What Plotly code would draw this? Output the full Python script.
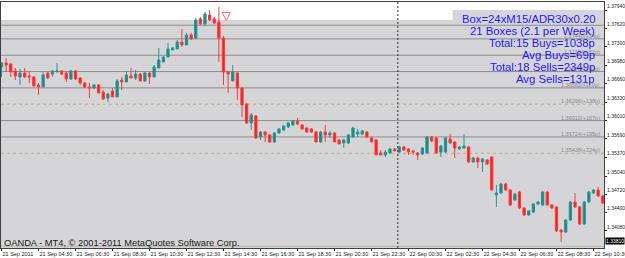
import plotly.graph_objects as go

# ---------------- data (M15 candles) ----------------
bars = list(range(131))
open_ = [1.36948, 1.37018, 1.37000, 1.36878, 1.36773, 1.36843, 1.36790, 1.36773, 1.36633, 1.36598,
         1.36843, 1.36825, 1.36860, 1.36878, 1.36843, 1.36738, 1.36878, 1.36755, 1.36668, 1.36598,
         1.36580, 1.36633, 1.36510, 1.36405, 1.36528, 1.36423, 1.36720, 1.36685, 1.36790, 1.36755,
         1.36825, 1.36703, 1.36843, 1.36773, 1.36930, 1.37035, 1.37123, 1.37245, 1.37263, 1.37385,
         1.37333, 1.37508, 1.37455, 1.37788, 1.37700, 1.37858, 1.37788, 1.37735, 1.37455, 1.36860,
         1.36703, 1.36843, 1.36580, 1.36300, 1.35968, 1.36090, 1.35723, 1.35810, 1.35758, 1.35635,
         1.35793, 1.35845, 1.35898, 1.35933, 1.36003, 1.35933, 1.35880, 1.35863, 1.35810, 1.35635,
         1.35810, 1.35758, 1.35793, 1.35670, 1.35618, 1.35618, 1.35723, 1.35775, 1.35775, 1.35810,
         1.35705, 1.35670, 1.35443, 1.35408, 1.35443, 1.35513, 1.35460, 1.35548, 1.35513, 1.35478,
         1.35443, 1.35425, 1.35443, 1.35723, 1.35705, 1.35460, 1.35460, 1.35688, 1.35635, 1.35513,
         1.35530, 1.35548, 1.35285, 1.35355, 1.35285, 1.35320, 1.35373, 1.34708, 1.34743, 1.34900,
         1.34795, 1.34620, 1.34760, 1.34480, 1.34358, 1.34410, 1.34550, 1.34533, 1.34760, 1.34533,
         1.34498, 1.34095, 1.34060, 1.34270, 1.34585, 1.34498, 1.34200, 1.34585, 1.34743, 1.34795,
         1.34690]
high = [1.37035, 1.37105, 1.37018, 1.36930, 1.36913, 1.36930, 1.36860, 1.36790, 1.36668, 1.36860,
        1.36860, 1.36895, 1.37018, 1.36895, 1.36860, 1.36895, 1.36895, 1.36773, 1.36685, 1.36668,
        1.36650, 1.36650, 1.36545, 1.36493, 1.36580, 1.36738, 1.36773, 1.36878, 1.36930, 1.36895,
        1.36843, 1.36860, 1.36860, 1.36983, 1.37280, 1.37140, 1.37368, 1.37298, 1.37420, 1.37613,
        1.37543, 1.37543, 1.37805, 1.37823, 1.37910, 1.37945, 1.37823, 1.37998, 1.37490, 1.36878,
        1.36983, 1.36860, 1.36598, 1.36318, 1.36143, 1.36108, 1.35828, 1.35828, 1.35775, 1.35810,
        1.35880, 1.35933, 1.35985, 1.36020, 1.36055, 1.35950, 1.35898, 1.35880, 1.35828, 1.35828,
        1.35933, 1.35828, 1.35810, 1.35688, 1.35688, 1.35775, 1.35898, 1.35863, 1.35845, 1.35828,
        1.35723, 1.35688, 1.35495, 1.35495, 1.35530, 1.35530, 1.35565, 1.35565, 1.35530, 1.35495,
        1.35460, 1.35548, 1.35740, 1.35740, 1.35723, 1.35583, 1.35723, 1.35775, 1.35653, 1.35565,
        1.35775, 1.35565, 1.35373, 1.35373, 1.35355, 1.35338, 1.35390, 1.34883, 1.34918, 1.34918,
        1.34813, 1.34743, 1.34778, 1.34498, 1.34445, 1.34568, 1.34603, 1.34778, 1.34778, 1.34550,
        1.34515, 1.34113, 1.34288, 1.34603, 1.34743, 1.34515, 1.34603, 1.34778, 1.34813, 1.34848,
        1.34708]
low = [1.36773, 1.36860, 1.36773, 1.36720, 1.36633, 1.36755, 1.36668, 1.36615, 1.36458, 1.36598,
       1.36738, 1.36773, 1.36860, 1.36808, 1.36685, 1.36720, 1.36720, 1.36633, 1.36580, 1.36405,
       1.36563, 1.36493, 1.36370, 1.36335, 1.36423, 1.36423, 1.36545, 1.36685, 1.36755, 1.36720,
       1.36703, 1.36685, 1.36650, 1.36773, 1.36930, 1.37035, 1.37123, 1.37245, 1.37263, 1.37298,
       1.37333, 1.37420, 1.37438, 1.37683, 1.37665, 1.37753, 1.37700, 1.37035, 1.36633, 1.36493,
       1.36703, 1.36370, 1.36073, 1.35950, 1.35845, 1.35688, 1.35670, 1.35635, 1.35618, 1.35618,
       1.35775, 1.35828, 1.35880, 1.35915, 1.35933, 1.35845, 1.35793, 1.35793, 1.35635, 1.35618,
       1.35635, 1.35705, 1.35635, 1.35600, 1.35530, 1.35600, 1.35705, 1.35723, 1.35758, 1.35705,
       1.35635, 1.35408, 1.35408, 1.35373, 1.35425, 1.35478, 1.35443, 1.35478, 1.35408, 1.35408,
       1.35320, 1.35408, 1.35425, 1.35635, 1.35425, 1.35373, 1.35443, 1.35600, 1.35355, 1.35495,
       1.35513, 1.35268, 1.35268, 1.35180, 1.35110, 1.35233, 1.34778, 1.34498, 1.34725, 1.34778,
       1.34515, 1.34603, 1.34463, 1.34340, 1.34340, 1.34393, 1.34533, 1.34515, 1.34515, 1.34463,
       1.34060, 1.33885, 1.34043, 1.34253, 1.34480, 1.34183, 1.34183, 1.34568, 1.34725, 1.34673,
       1.34550]
close = [1.37018, 1.36983, 1.36860, 1.36790, 1.36843, 1.36773, 1.36773, 1.36615, 1.36598, 1.36808,
         1.36755, 1.36878, 1.36878, 1.36825, 1.36738, 1.36878, 1.36738, 1.36668, 1.36598, 1.36580,
         1.36633, 1.36493, 1.36388, 1.36475, 1.36423, 1.36703, 1.36685, 1.36808, 1.36755, 1.36825,
         1.36703, 1.36843, 1.36773, 1.36948, 1.37070, 1.37123, 1.37263, 1.37280, 1.37385, 1.37333,
         1.37508, 1.37438, 1.37770, 1.37700, 1.37875, 1.37770, 1.37718, 1.37455, 1.36860, 1.36825,
         1.36860, 1.36580, 1.36283, 1.35968, 1.36108, 1.35705, 1.35810, 1.35758, 1.35635, 1.35793,
         1.35863, 1.35915, 1.35968, 1.36003, 1.35950, 1.35863, 1.35810, 1.35810, 1.35635, 1.35810,
         1.35758, 1.35793, 1.35635, 1.35600, 1.35670, 1.35758, 1.35880, 1.35810, 1.35828, 1.35723,
         1.35635, 1.35408, 1.35408, 1.35460, 1.35513, 1.35478, 1.35548, 1.35495, 1.35460, 1.35460,
         1.35408, 1.35530, 1.35723, 1.35653, 1.35443, 1.35565, 1.35705, 1.35618, 1.35530, 1.35548,
         1.35565, 1.35285, 1.35355, 1.35285, 1.35338, 1.35250, 1.34795, 1.34743, 1.34900, 1.34795,
         1.34533, 1.34725, 1.34480, 1.34358, 1.34428, 1.34550, 1.34585, 1.34760, 1.34533, 1.34480,
         1.34078, 1.34060, 1.34270, 1.34585, 1.34498, 1.34200, 1.34585, 1.34760, 1.34795, 1.34690,
         1.34568]

time_label_bars = [0, 8, 16, 24, 32, 40, 48, 56, 64, 72, 80, 88, 96, 104, 112, 120, 128]
time_labels = ["21 Sep 2011", "21 Sep 04:30", "21 Sep 06:30", "21 Sep 08:30", "21 Sep 10:30",
               "21 Sep 12:30", "21 Sep 14:30", "21 Sep 16:30", "21 Sep 18:30", "21 Sep 20:30",
               "21 Sep 22:30", "22 Sep 00:30", "22 Sep 02:30", "22 Sep 04:30", "22 Sep 06:30",
               "22 Sep 08:30", "22 Sep 10:30"]
price_ticks = [1.37940, 1.37620, 1.37300, 1.36980, 1.36660, 1.36330, 1.36010,
               1.35690, 1.35370, 1.35040, 1.34720, 1.34400, 1.34080]

box_levels = [1.37440, 1.37154, 1.36868, 1.36582, 1.36296, 1.36010, 1.35724, 1.35438]
box_pips = [24, 52, 81, 110, 138, 167, 195, 224]
dotted_levels = [1.36296, 1.35438]
entry_level = 1.37678
box_top = 1.37770
bid_price = 1.33810
day_separator_bar = 85.7
sell_arrow_bar = 48.6
sell_arrow_price = 1.37760

info_lines = ["Box=24xM15/ADR30x0.20", "21 Boxes (2.1 per Week)", "Total:15 Buys=1038p",
              "Avg Buys=69p", "Total:18 Sells=2349p", "Avg Sells=131p"]

# ---------------- figure ----------------
BG = "#d5d5d7"
TEAL = "#138a8a"
RED = "#ff1c1c"
FONT = "Liberation Sans, Arial"
PX_PER_BAR = 4.625
L, R = 1, 604   # plot area edges in pixels

fig = go.Figure()
fig.add_trace(go.Candlestick(
    x=bars, open=open_, high=high, low=low, close=close,
    increasing=dict(line=dict(color="#2a9494", width=1), fillcolor=TEAL),
    decreasing=dict(line=dict(color="#ff3a3a", width=1), fillcolor=RED),
    whiskerwidth=0, showlegend=False, hoverinfo="skip"))

fig.add_trace(go.Scatter(
    x=[sell_arrow_bar], y=[sell_arrow_price], mode="markers",
    marker=dict(symbol="arrow-down-open", size=8, color="#f07070", line=dict(width=1, color="#f07070")),
    showlegend=False, hoverinfo="skip"))

shapes = []
shapes.append(dict(type="rect", xref="paper", yref="y", x0=0, x1=1, y0=box_top, y1=1.381,
                   fillcolor="white", line=dict(width=0), layer="below"))
shapes.append(dict(type="rect", xref="paper", yref="paper", x0=0.749, x1=1, y0=0.92, y1=0.9675,
                   fillcolor=BG, line=dict(width=0), layer="below"))
shapes.append(dict(type="line", xref="paper", yref="y", x0=0, x1=1, y0=entry_level, y1=entry_level,
                   line=dict(color="#8c8c8c", width=1), layer="below"))
for lv in box_levels:
    if lv in dotted_levels:
        ln = dict(color="#b4ad82", width=1, dash="dot")
    else:
        ln = dict(color="#8c8c8c", width=1)
    shapes.append(dict(type="line", xref="paper", yref="y", x0=0, x1=1, y0=lv, y1=lv, line=ln, layer="below"))
shapes.append(dict(type="line", xref="paper", yref="y", x0=0, x1=1, y0=bid_price, y1=bid_price,
                   line=dict(color="#b8b8a8", width=1), layer="below"))
shapes.append(dict(type="line", xref="x", yref="paper", x0=day_separator_bar, x1=day_separator_bar, y0=0, y1=1,
                   line=dict(color="#303030", width=1, dash="2px,2px")))

annotations = []
for lv, pp in zip(box_levels, box_pips):
    annotations.append(dict(xref="paper", yref="y", x=1, y=lv, xanchor="right", yanchor="bottom",
                            text=f"{lv:.5f}(+{pp}p)", showarrow=False, xshift=-2, yshift=-2,
                            font=dict(family=FONT, size=5.5, color="#8a8a8a")))
for k, t in enumerate(info_lines):
    ypix = 19 + 12 * k
    annotations.append(dict(xref="paper", yref="paper", x=(597 - L) / (R - L), y=(248 - ypix) / 246,
                            xanchor="right", yanchor="middle", text=t, showarrow=False,
                            font=dict(family=FONT, size=11.3, color="#1a1aff")))
annotations.append(dict(xref="paper", yref="paper", x=0, y=0, xanchor="left", yanchor="bottom",
                        xshift=1, yshift=-2, text="OANDA - MT4, © 2001-2011 MetaQuotes Software Corp.",
                        showarrow=False, font=dict(family=FONT, size=9.3, color="#1a1a1a")))
annotations.append(dict(xref="paper", yref="y", x=1, y=bid_price, xanchor="left", yanchor="middle",
                        text=f"{bid_price:.5f}", showarrow=False, bgcolor="black", borderpad=0,
                        xshift=1, yshift=5, font=dict(family=FONT, size=5, color="white")))

fig.update_layout(
    width=625, height=258, margin=dict(l=L, r=625 - R, t=2, b=10, autoexpand=False),
    paper_bgcolor="white", plot_bgcolor=BG, showlegend=False,
    shapes=shapes, annotations=annotations,
    xaxis=dict(range=[(L - 1.5) / PX_PER_BAR, (R - 1.5) / PX_PER_BAR], rangeslider=dict(visible=False),
               tickmode="array", tickvals=time_label_bars, ticktext=time_labels, tickangle=0,
               ticks="outside", ticklen=2, tickcolor="#303030", ticklabelposition="outside right",
               ticklabeloverflow="allow",
               tickfont=dict(family=FONT, size=5.5, color="#222"), automargin=False,
               showgrid=False, zeroline=False, showline=True, mirror=True, linecolor="#404040", linewidth=1),
    yaxis=dict(range=[1.3378, 1.38085], side="right", tickmode="array", tickvals=price_ticks,
               ticktext=[f"{p:.5f}" for p in price_ticks], ticks="outside", ticklen=2, tickcolor="#303030",
               ticklabelposition="outside top", ticklabeloverflow="allow", ticklabelstandoff=1,
               automargin=False, tickfont=dict(family=FONT, size=5, color="#222"),
               showgrid=False, zeroline=False, showline=True, mirror=True, linecolor="#404040", linewidth=1),
)

fig.write_html("out.html")
